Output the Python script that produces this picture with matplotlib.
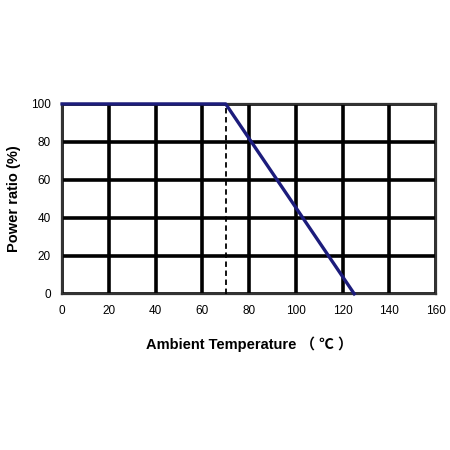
import matplotlib
matplotlib.use('Agg')
import matplotlib.pyplot as plt

# derating curve
temp = [0, 70, 125]
power = [100, 100, 0]
knee_temp = 70

x_ticks = [0, 20, 40, 60, 80, 100, 120, 140, 160]
y_ticks = [0, 20, 40, 60, 80, 100]

plt.rcParams['font.family'] = ['Liberation Sans', 'Noto Sans CJK SC', 'DejaVu Sans']

fig = plt.figure(figsize=(4.5, 4.5), dpi=100)
ax = fig.add_axes([0.138, 0.347, 0.831, 0.422])

ax.set_xlim(0, 160)
ax.set_ylim(0, 100)
ax.set_xticks(x_ticks)
ax.set_yticks(y_ticks)
ax.grid(True, color='black', linewidth=2.6)
ax.set_axisbelow(True)
for s in ax.spines.values():
    s.set_color('#333333')
    s.set_linewidth(1.6)
ax.tick_params(length=0, labelsize=8.5, pad=8)

ax.plot([knee_temp, knee_temp], [0, 100], color='black', linestyle='--',
        linewidth=1.3, dashes=(3, 2), zorder=3)
ax.plot(temp, power, color='#1c1c7c', linewidth=2.4, zorder=4, clip_on=False)

ax.set_xlabel('Ambient Temperature （ ℃ ）', fontsize=10.5, fontweight='bold', labelpad=14)
ax.set_ylabel('Power ratio (%)', fontsize=10.5, fontweight='bold', labelpad=7)

fig.savefig('out.png', dpi=100, facecolor='white')
